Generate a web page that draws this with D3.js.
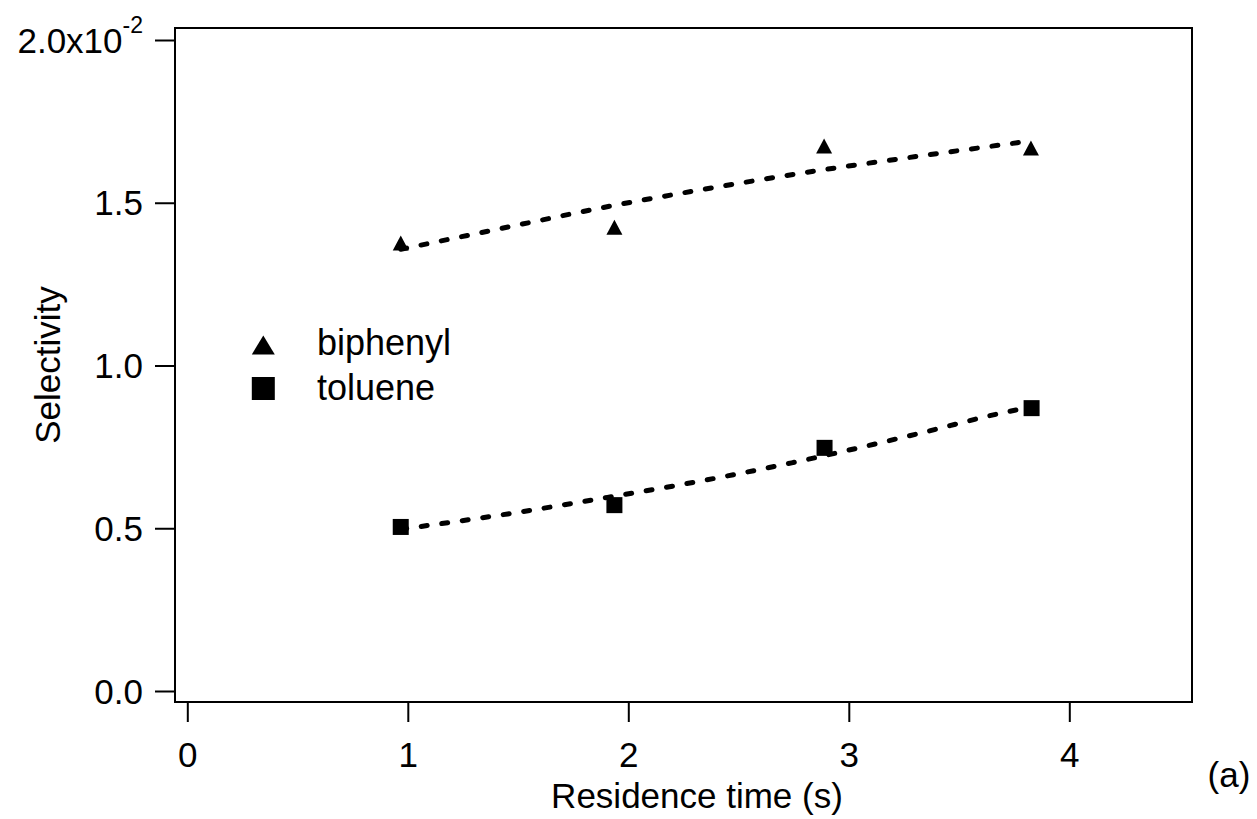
<!DOCTYPE html>
<html>
<head>
<meta charset="utf-8">
<script src="https://cdn.jsdelivr.net/npm/d3@7"></script>
<style>
  body { margin: 0; background: #fff; }
  text { font-family: Arial, "Liberation Sans", sans-serif; fill: #000; }
</style>
</head>
<body>
<script>
// measured points (selectivity in units of 1e-2)
var timeBiphenyl = [0.968, 1.937, 2.888, 3.826];
var selBiphenyl  = [1.376, 1.425, 1.674, 1.668];
var timeToluene  = [0.968, 1.937, 2.890, 3.829];
var selToluene   = [0.504, 0.571, 0.747, 0.869];

// fitted curves
var fitBiphenylX = [0.968, 1.459, 1.921, 2.323, 2.833, 3.305, 3.826];
var fitBiphenylY = [1.357, 1.426, 1.490, 1.539, 1.596, 1.642, 1.690];
var fitTolueneX  = [0.968, 1.453, 1.925, 2.207, 2.741, 3.305, 3.686, 3.826];
var fitTolueneY  = [0.497, 0.544, 0.597, 0.630, 0.701, 0.789, 0.853, 0.873];

var xTicks = [0, 1, 2, 3, 4];
var yTicks = [0, 0.5, 1.0, 1.5, 2.0];
var yTickLabels = ["0.0", "0.5", "1.0", "1.5", "2.0x10"];

var W = 1257, H = 819;
var frame = {left: 175, top: 28, right: 1192, bottom: 702};

var svg = d3.select("body").append("svg")
    .attr("width", W)
    .attr("height", H);

var x = d3.scaleLinear().domain([0, 4]).range([187.3, 1069.3]);
var y = d3.scaleLinear().domain([0, 2]).range([691, 40]);

// frame
svg.append("rect")
    .attr("x", frame.left).attr("y", frame.top)
    .attr("width", frame.right - frame.left)
    .attr("height", frame.bottom - frame.top)
    .attr("fill", "none").attr("stroke", "#000").attr("stroke-width", 2);

// x axis
var gx = svg.append("g")
    .attr("transform", "translate(0," + frame.bottom + ")")
    .call(d3.axisBottom(x).tickValues(xTicks).tickSize(20).tickPadding(0).tickFormat(d3.format("d")));
gx.select(".domain").remove();
gx.selectAll(".tick line").attr("stroke", "#000").attr("stroke-width", 2);
gx.selectAll(".tick text").attr("font-size", 35).attr("y", 65).attr("dy", 0)
    .attr("font-family", "Arial, 'Liberation Sans', sans-serif");

// y axis
var gy = svg.append("g")
    .attr("transform", "translate(" + frame.left + ",0)")
    .call(d3.axisLeft(y).tickValues(yTicks).tickSize(20).tickFormat(""));
gy.select(".domain").remove();
gy.selectAll(".tick line").attr("stroke", "#000").attr("stroke-width", 2);

yTicks.forEach(function(v, i) {
    var t = svg.append("text")
        .attr("x", frame.left - 32)
        .attr("y", y(v) + 12.5)
        .attr("text-anchor", "end")
        .attr("font-size", 35);
    t.append("tspan").text(yTickLabels[i]);
    if (i === yTicks.length - 1) {
        t.append("tspan").attr("font-size", 23).attr("dy", -20).text("-2");
    }
});

// axis titles
svg.append("text")
    .attr("x", 697).attr("y", 808)
    .attr("text-anchor", "middle")
    .attr("font-size", 35)
    .text("Residence time (s)");

svg.append("text")
    .attr("transform", "translate(60,365) rotate(-90)")
    .attr("text-anchor", "middle")
    .attr("font-size", 35)
    .text("Selectivity");

svg.append("text")
    .attr("x", 1229).attr("y", 787)
    .attr("text-anchor", "middle")
    .attr("font-size", 35)
    .text("(a)");

// fitted curves
var line = d3.line()
    .x(function(d) { return x(d[0]); })
    .y(function(d) { return y(d[1]); })
    .curve(d3.curveMonotoneX);

[[fitBiphenylX, fitBiphenylY], [fitTolueneX, fitTolueneY]].forEach(function(f) {
    svg.append("path")
        .datum(d3.zip(f[0], f[1]))
        .attr("d", line)
        .attr("fill", "none")
        .attr("stroke", "#000")
        .attr("stroke-width", 5)
        .attr("stroke-linecap", "round")
        .attr("stroke-dasharray", "6,14.7");
});

function triangle(cx, cy, w, h) {
    return "M" + (cx - w / 2) + "," + (cy + h / 2) +
        "L" + (cx + w / 2) + "," + (cy + h / 2) +
        "L" + cx + "," + (cy - h / 2) + "Z";
}

// markers
svg.append("g").selectAll("path")
    .data(d3.zip(timeBiphenyl, selBiphenyl))
    .enter().append("path")
    .attr("d", function(d) { return triangle(x(d[0]), y(d[1]), 16, 15); })
    .attr("fill", "#000");

svg.append("g").selectAll("rect")
    .data(d3.zip(timeToluene, selToluene))
    .enter().append("rect")
    .attr("x", function(d) { return x(d[0]) - 8; })
    .attr("y", function(d) { return y(d[1]) - 8; })
    .attr("width", 16).attr("height", 16)
    .attr("fill", "#000");

// legend
svg.append("path").attr("d", triangle(263.3, 345, 23, 19)).attr("fill", "#000");
svg.append("rect").attr("x", 251.8).attr("y", 377).attr("width", 23).attr("height", 23).attr("fill", "#000");
svg.append("text").attr("x", 317).attr("y", 355).attr("font-size", 36).text("biphenyl");
svg.append("text").attr("x", 317).attr("y", 400).attr("font-size", 36).text("toluene");
</script>
</body>
</html>
